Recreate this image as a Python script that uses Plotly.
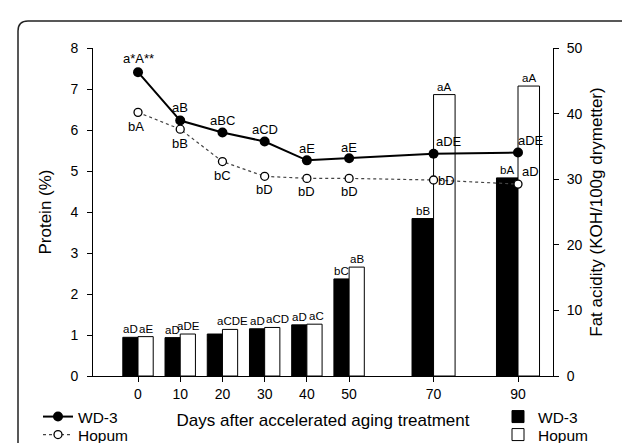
import plotly.graph_objects as go

# ---- data ----
days = [0, 10, 20, 30, 40, 50, 70, 90]
day_ticks = ["0", "10", "20", "30", "40", "50", "70", "90"]

protein_wd3 = [7.41, 6.23, 5.94, 5.72, 5.26, 5.31, 5.42, 5.45]
protein_hopum = [6.43, 6.02, 5.23, 4.87, 4.82, 4.82, 4.78, 4.68]
protein_wd3_labels = ["a*A**", "aB", "aBC", "aCD", "aE", "aE", "aDE", "aDE"]
protein_hopum_labels = ["bA", "bB", "bC", "bD", "bD", "bD", "bD", "aD"]

fat_wd3 = [5.9, 5.85, 6.4, 7.2, 7.8, 14.8, 24.0, 30.2]
fat_hopum = [6.0, 6.4, 7.1, 7.4, 7.9, 16.6, 42.9, 44.2]
fat_wd3_labels = ["aD", "aD", "aD", "aD", "aD", "bC", "bB", "bA"]
fat_hopum_labels = ["aE", "aDE", "aCDE", "aCD", "aC", "aB", "aA", "aA"]

# ---- styles ----
FONT = "Liberation Sans, Arial, sans-serif"
bar_width = [3.6, 3.6, 3.6, 3.6, 3.6, 3.6, 5.1, 5.1]
wd3_bar_label_dy = [8, 8, -4, 8, 8, 8, 8, 8]
hop_bar_label_dx = [0, 1, 2, 5, 2, 0, 0, 0]
wd3_line_label_dx = [0, 0, 0, 0, 0, 0, 15, 13]
wd3_line_label_dy = [14, 13, 12, 12, 12, 11, 12, 12]
hop_line_label_dx = [-2, 0, 0, 0, 0, 0, 13, 12]
hop_line_label_dy = [-14, -14, -14, -13, -13, -13, 0, 13]

# pixel geometry of plot area
L, R, T, B = 85, 545, 40, 368
W, H = 630, 443
pw, ph = R - L, B - T

def px(xp):
    return (xp - L) / pw

def py(yp):
    return (B - yp) / ph

fig = go.Figure()

# bars (fat acidity) on primary y (right side)
fig.add_trace(go.Bar(
    x=days, y=fat_wd3, width=bar_width, offset=[-w for w in bar_width],
    marker=dict(color="black", line=dict(color="black", width=1)),
    name="WD-3", legend="legend3", showlegend=True, yaxis="y"))
fig.add_trace(go.Bar(
    x=days, y=fat_hopum, width=bar_width, offset=[0] * len(days),
    marker=dict(color="white", line=dict(color="black", width=1)),
    name="Hopum", legend="legend4", showlegend=True, yaxis="y"))

# lines (protein) on y2 (left side), drawn on top
fig.add_trace(go.Scatter(
    x=days, y=protein_wd3, mode="lines+markers", name="WD-3",
    line=dict(color="black", width=2),
    marker=dict(symbol="circle", size=10, color="black"),
    yaxis="y2", legend="legend", showlegend=True))
fig.add_trace(go.Scatter(
    x=days, y=protein_hopum, mode="lines+markers", name="Hopum",
    line=dict(color="#444444", width=1.2, dash="dot"),
    marker=dict(symbol="circle", size=8, color="white",
                line=dict(color="black", width=1.3)),
    yaxis="y2", legend="legend2", showlegend=True))

annotations = []
for i, d in enumerate(days):
    w = bar_width[i]
    annotations.append(dict(x=d - w / 2, y=fat_wd3[i], xref="x", yref="y",
                            text=fat_wd3_labels[i], showarrow=False,
                            yanchor="middle", yshift=wd3_bar_label_dy[i],
                            font=dict(size=11.5, color="black", family=FONT)))
    annotations.append(dict(x=d + w / 2, y=fat_hopum[i], xref="x", yref="y",
                            text=fat_hopum_labels[i], showarrow=False,
                            yanchor="middle", yshift=8,
                            xshift=hop_bar_label_dx[i],
                            font=dict(size=11.5, color="black", family=FONT)))
    annotations.append(dict(x=d, y=protein_wd3[i], xref="x", yref="y2",
                            text=protein_wd3_labels[i], showarrow=False,
                            yanchor="middle", xshift=wd3_line_label_dx[i],
                            yshift=wd3_line_label_dy[i],
                            font=dict(size=13, color="black", family=FONT)))
    annotations.append(dict(x=d, y=protein_hopum[i], xref="x", yref="y2",
                            text=protein_hopum_labels[i], showarrow=False,
                            yanchor="middle", xshift=hop_line_label_dx[i],
                            yshift=hop_line_label_dy[i],
                            font=dict(size=13, color="black", family=FONT)))

# rounded frame (bottom edge runs off the image)
x0, x1 = px(10), px(625)
yt, yb = py(13), py(480)
rx, ry = 10 / pw, 10 / ph
frame_path = (f"M {x0},{yb} L {x0},{yt - ry} Q {x0},{yt} {x0 + rx},{yt} "
              f"L {x1 - rx},{yt} Q {x1},{yt} {x1},{yt - ry} L {x1},{yb}")

axis_common = dict(showline=True, linecolor="black", linewidth=1,
                   ticks="outside", ticklen=5, tickcolor="black",
                   showgrid=False, zeroline=False,
                   tickfont=dict(size=14, color="black", family=FONT))

def legend_at(xp, yp):
    return dict(x=px(xp), y=py(yp), xanchor="left", yanchor="top",
                bgcolor="rgba(0,0,0,0)", tracegroupgap=0,
                font=dict(size=15.5, color="black", family=FONT))

fig.update_layout(
    width=W, height=H,
    showlegend=True,
    margin=dict(l=L, r=W - R, t=T, b=H - B, autoexpand=False),
    paper_bgcolor="white", plot_bgcolor="white",
    font=dict(family=FONT, color="black"),
    barmode="overlay",
    xaxis=dict(range=[-10.66, 98.29], tickvals=days, ticktext=day_ticks,
               title=dict(text="Days after accelerated aging treatment",
                          font=dict(size=17, color="black", family=FONT),
                          standoff=13),
               automargin=False, **axis_common),
    yaxis=dict(range=[0, 50], dtick=10, side="right", anchor="x",
               title=dict(text="Fat acidity (KOH/100g drymetter)",
                          font=dict(size=17, color="black", family=FONT),
                          standoff=8),
               ticklabelstandoff=5, automargin=False, **axis_common),
    yaxis2=dict(range=[0, 8], dtick=1, side="left", overlaying="y", anchor="x",
                title=dict(text="Protein (%)",
                           font=dict(size=17, color="black", family=FONT),
                           standoff=14),
                ticklabelstandoff=6, automargin=False, **axis_common),
    legend=legend_at(30, 392),
    legend2=legend_at(30, 410),
    legend3=legend_at(490, 392),
    legend4=legend_at(490, 410),
    annotations=annotations,
    shapes=[dict(type="path", xref="paper", yref="paper", path=frame_path,
                 line=dict(color="#222222", width=1.5), layer="above")],
)

fig.write_html("out.html")
